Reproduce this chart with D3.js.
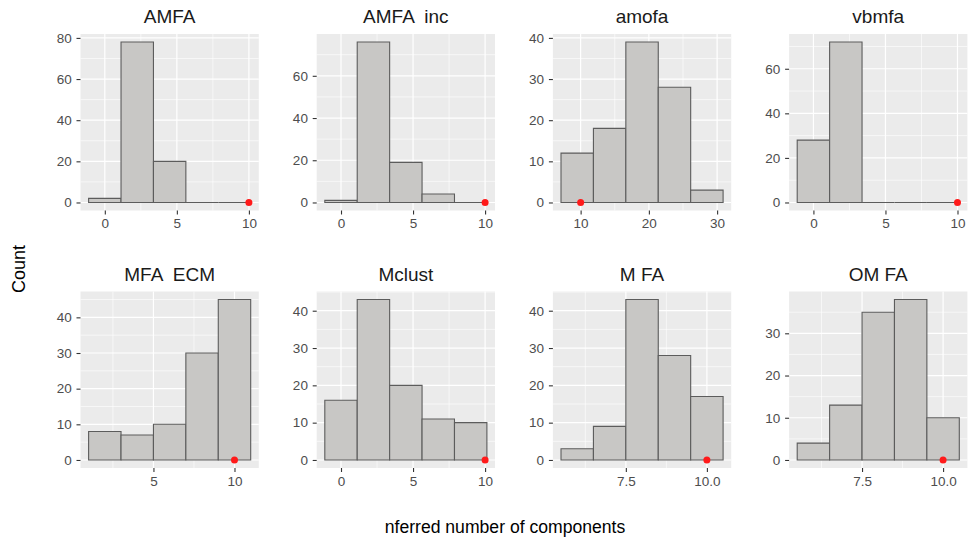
<!DOCTYPE html>
<html>
<head>
<meta charset="utf-8">
<script src="https://cdn.jsdelivr.net/npm/d3@7"></script>
<style>
  html, body { margin: 0; padding: 0; background: #ffffff; }
  svg { display: block; font-family: "Liberation Sans", Arial, sans-serif; }
</style>
</head>
<body>
<svg id="chart" width="968" height="546"></svg>
<script>
// Facet titles, one per method
const panelNames = ["AMFA", "AMFA  inc", "amofa", "vbmfa", "MFA  ECM", "Mclust", "M FA", "OM FA"];

// Histogram bins: lower edge of the first bin, bin width, and counts per bin
const binStarts = [-1.125, -1.125, 7.125, -1.125, 1, -1.125, 5.5, 5.5];
const binWidths = [2.25, 2.25, 4.75, 2.25, 2, 2.25, 1, 1];
const binCounts = [
  [2, 78, 20, 0, 0],
  [1, 76, 19, 4, 0],
  [12, 18, 39, 28, 3],
  [28, 72, 0, 0, 0],
  [8, 7, 10, 30, 45],
  [16, 43, 20, 11, 10],
  [3, 9, 43, 28, 17],
  [4, 13, 35, 38, 10]
];

// True number of components for each method
const trueValues = [10, 10, 10, 10, 10, 10, 10, 10];

// Axis breaks and their labels
const xTickValues = [[0, 5, 10], [0, 5, 10], [10, 20, 30], [0, 5, 10], [5, 10], [0, 5, 10], [7.5, 10], [7.5, 10]];
const xTickLabels = [["0", "5", "10"], ["0", "5", "10"], ["10", "20", "30"], ["0", "5", "10"], ["5", "10"], ["0", "5", "10"], ["7.5", "10.0"], ["7.5", "10.0"]];
const yTickValues = [[0, 20, 40, 60, 80], [0, 20, 40, 60], [0, 10, 20, 30, 40], [0, 20, 40, 60],
                     [0, 10, 20, 30, 40], [0, 10, 20, 30, 40], [0, 10, 20, 30, 40], [0, 10, 20, 30]];

const xTitle = "nferred number of components";
const yTitle = "Count";

// Layout
const panelW = 178.3, panelH = 176.5;
const left0 = 80.5, top0 = 34, colStep = 236.2, rowStep = 257.5;

const svg = d3.select("#chart");

function minorBreaks(ticks, domain) {
  const step = ticks.length > 1 ? ticks[1] - ticks[0] : 1;
  const out = [];
  for (let v = ticks[0] - step / 2; v <= ticks[ticks.length - 1] + step / 2 + 1e-9; v += step) {
    if (v > domain[0] && v < domain[1]) out.push(v);
  }
  return out;
}

panelNames.forEach((name, i) => {
  const col = i % 4, row = Math.floor(i / 4);
  const px = left0 + col * colStep, py = top0 + row * rowStep;
  const counts = binCounts[i];
  const start = binStarts[i], w = binWidths[i];
  const edges = counts.map((c, k) => start + k * w);
  const lastEdge = start + counts.length * w;

  const lo = Math.min(start, trueValues[i]), hi = Math.max(lastEdge, trueValues[i]);
  const span = hi - lo;
  const x = d3.scaleLinear().domain([lo - 0.05 * span, hi + 0.05 * span]).range([0, panelW]);
  const maxC = d3.max(counts);
  const y = d3.scaleLinear().domain([-0.05 * maxC, 1.05 * maxC]).range([panelH, 0]);

  const g = svg.append("g").attr("transform", `translate(${px},${py})`);

  g.append("rect").attr("width", panelW).attr("height", panelH).attr("fill", "#EBEBEB");

  // minor grid
  const xMinor = minorBreaks(xTickValues[i], x.domain());
  const yMinor = minorBreaks(yTickValues[i], y.domain());
  g.selectAll(".xminor").data(xMinor).join("line")
    .attr("x1", d => x(d)).attr("x2", d => x(d)).attr("y1", 0).attr("y2", panelH)
    .attr("stroke", "#ffffff").attr("stroke-width", 0.6);
  g.selectAll(".yminor").data(yMinor).join("line")
    .attr("y1", d => y(d)).attr("y2", d => y(d)).attr("x1", 0).attr("x2", panelW)
    .attr("stroke", "#ffffff").attr("stroke-width", 0.6);
  // major grid
  g.selectAll(".xmajor").data(xTickValues[i]).join("line")
    .attr("x1", d => x(d)).attr("x2", d => x(d)).attr("y1", 0).attr("y2", panelH)
    .attr("stroke", "#ffffff").attr("stroke-width", 1.2);
  g.selectAll(".ymajor").data(yTickValues[i]).join("line")
    .attr("y1", d => y(d)).attr("y2", d => y(d)).attr("x1", 0).attr("x2", panelW)
    .attr("stroke", "#ffffff").attr("stroke-width", 1.2);

  // histogram bars (paths so that empty bins still show their outline)
  g.selectAll(".bar").data(counts.map((c, k) => ({ x0: edges[k], x1: edges[k] + w, c })))
    .join("path")
    .attr("d", d => `M${x(d.x0)},${y(0)}V${y(d.c)}H${x(d.x1)}V${y(0)}Z`)
    .attr("fill", "#C8C7C5")
    .attr("stroke", "#5C5C5C")
    .attr("stroke-width", 1.1);

  // true value marker
  g.append("circle")
    .attr("cx", x(trueValues[i])).attr("cy", y(0)).attr("r", 3.5)
    .attr("fill", "#FF1A1A");

  // axes
  const xa = g.append("g").attr("transform", `translate(0,${panelH})`)
    .call(d3.axisBottom(x).tickValues(xTickValues[i])
      .tickFormat((d, k) => xTickLabels[i][k]).tickSize(4).tickPadding(4));
  const ya = g.append("g")
    .call(d3.axisLeft(y).tickValues(yTickValues[i]).tickSize(4).tickPadding(4.8));
  [xa, ya].forEach(a => {
    a.select(".domain").remove();
    a.selectAll(".tick line").attr("stroke", "#333333").attr("stroke-width", 1.1);
    a.selectAll(".tick text").attr("fill", "#4D4D4D").attr("font-size", "13.5px")
      .attr("font-family", "'Liberation Sans', Arial, sans-serif");
  });

  // facet title
  g.append("text")
    .attr("x", panelW / 2).attr("y", -11)
    .attr("text-anchor", "middle")
    .attr("font-size", "19px").attr("fill", "#1A1A1A")
    .style("white-space", "pre")
    .text(name);
});

// axis titles
svg.append("text")
  .attr("x", 505).attr("y", 533)
  .attr("text-anchor", "middle").attr("font-size", "17.6px").attr("fill", "#000")
  .text(xTitle);

svg.append("text")
  .attr("transform", "translate(24.5,269) rotate(-90)")
  .attr("text-anchor", "middle").attr("font-size", "18px").attr("fill", "#000")
  .text(yTitle);
</script>
</body>
</html>
